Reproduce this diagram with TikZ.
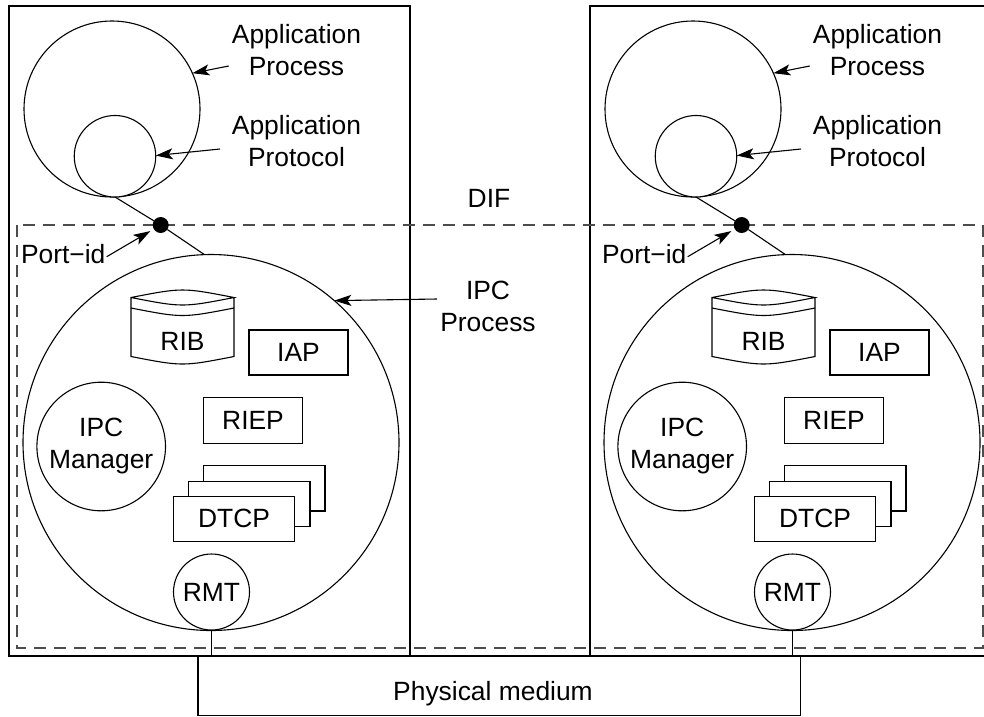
\documentclass[tikz,border=0pt]{standalone}
\usepackage{fontspec}
\setmainfont{Liberation Sans}
\usetikzlibrary{arrows.meta}

\begin{document}
\begin{tikzpicture}[x=1pt,y=-1pt,
  every node/.style={font=\fontsize{26.4}{32}\selectfont, inner sep=0pt, outer sep=0pt},
  outline/.style={draw=black, line width=1.1pt},
  ring/.style={outline, circle, fill=white},
  box/.style={outline, rectangle, fill=white},
  txt/.style={align=center},
  pointer/.style={line width=1.1pt, -{Stealth[length=17pt,width=11pt,inset=4pt]}},
  difline/.style={draw=black!70, line width=1.1pt, dash pattern=on 12pt off 8pt},
]
\useasboundingbox (0,0) rectangle (984,716);
\clip (0,0) rectangle (984,716);

% the two systems' frames
\foreach \s/\dx in {L/0, R/581} {
  \node[outline, rectangle, minimum width=401pt, minimum height=650pt]
    (frame\s) at (209.5+\dx,331) {};
}

% DIF boundary
\draw[difline] (17,225) rectangle (983,648);

% physical medium
\node[outline, rectangle, minimum width=602.7pt, minimum height=59.5pt]
  (phys) at (499.35,685.75) {};
\node[anchor=base] (physlbl) at (493,700.7) {Physical medium};

% one system: application process on top of its IPC process
% (two-line labels are placed by the baseline of their last line)
\foreach \s/\dx in {L/0, R/581} {
  \begin{scope}[xshift=\dx pt]
    \node[ring, minimum size=176pt] (ap\s) at (112,109) {};
    \node[ring, minimum size=81.5pt] (apr\s) at (115,156.25) {};
    \node[txt, anchor=base] (aptxt\s) at (296.5,75.3) {Application\\Process};
    \node[txt, anchor=base] (aprtxt\s) at (296.5,166) {Application\\Protocol};
    \coordinate (apfrom\s) at (228.7,66);
    \coordinate (aprfrom\s) at (220,149);
    \draw[pointer] (apfrom\s) -- (ap\s.24);
    \draw[pointer] (aprfrom\s) -- (apr\s.1);

    % IPC process
    \node[ring, minimum size=376pt] (ipc\s) at (211,442.5) {};
    \node[circle, fill=black, minimum size=16pt] (port\s) at (160.7,225) {};
    \draw[outline] (apr\s.south) -- (port\s) -- (ipc\s.92);
    \node[anchor=base west] (pid\s) at (21,263.3) {Port−id};
    \coordinate (pidfrom\s) at (106.7,256.7);
    \draw[pointer, shorten >=4pt] (pidfrom\s) -- (port\s);

    % RIB drawn as a stack of disks
    \draw[outline] (131,297.5) .. controls (182.5,287.5) .. (234,297.5)
      .. controls (182.5,307.5) .. (131,297.5) -- (131,356.5)
      .. controls (182.5,366.5) .. (234,356.5) -- (234,297.5);
    \draw[outline] (131,308) .. controls (182.5,318) .. (234,308);
    \node (rib\s) at (182.5,341.5) {RIB};

    \node[box, minimum width=99pt, minimum height=45pt] (iap\s) at (298.5,352.5) {IAP};
    \node[box, minimum width=98.6pt, minimum height=46pt] (riep\s) at (253,420.3) {RIEP};

    % stacked DTCP instances
    \node[box, minimum width=121.4pt, minimum height=45.3pt] (dtcpc\s) at (264.3,488.3) {};
    \node[box, minimum width=121.4pt, minimum height=45.3pt] (dtcpb\s) at (249.3,503.7) {};
    \node[box, minimum width=121.4pt, minimum height=45.3pt] (dtcp\s) at (234,518.7) {DTCP};

    \node[ring, txt, minimum size=128.6pt] (mgr\s) at (101.2,446.5) {IPC\\Manager};
    \node[ring, minimum size=76pt] (rmt\s) at (211.5,592) {RMT};
  \end{scope}
  \draw[outline] (rmt\s.south) -- (rmt\s.south |- phys.north);
}

% labels shared by both systems
\node[anchor=base] (dif) at (489,207.5) {DIF};
\node[txt, anchor=base] (ipclbl) at (488,331) {IPC\\Process};
\coordinate (ipcfrom) at (437,299);
\draw[pointer] (ipcfrom) -- (ipcL.49.7);
\end{tikzpicture}
\end{document}
